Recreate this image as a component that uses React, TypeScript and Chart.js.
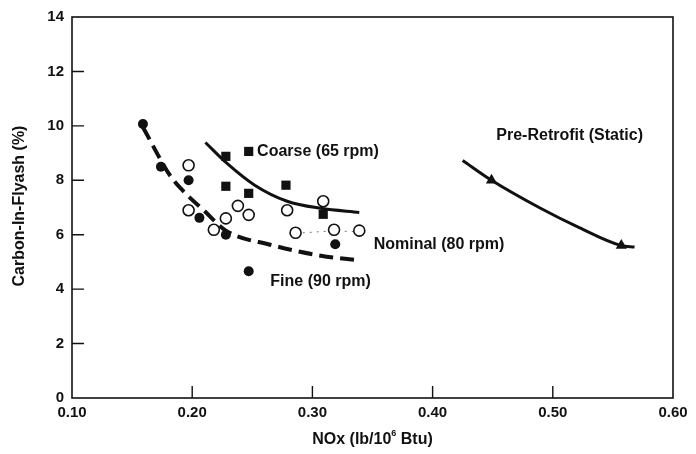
import React, { useEffect, useRef } from "react";
import { Chart, registerables } from "chart.js";

Chart.register(...registerables);

// ---- axis ticks ----
const xTicks = [0.1, 0.2, 0.3, 0.4, 0.5, 0.6];
const yTicks = [0, 2, 4, 6, 8, 10, 12, 14];

// ---- Coarse (65 rpm): filled squares + solid curve ----
const coarseX = [0.228, 0.247, 0.228, 0.247, 0.278, 0.309];
const coarseY = [8.88, 9.06, 7.78, 7.52, 7.82, 6.75];
const coarseCurveX = [0.211, 0.229, 0.252, 0.279, 0.307, 0.339];
const coarseCurveY = [9.39, 8.62, 7.82, 7.23, 6.97, 6.82];

// ---- Nominal (80 rpm): open circles ----
const nominalX = [0.197, 0.197, 0.228, 0.218, 0.238, 0.247, 0.279, 0.309, 0.286, 0.318, 0.339];
const nominalY = [8.55, 6.9, 6.6, 6.18, 7.06, 6.73, 6.9, 7.23, 6.07, 6.18, 6.15];
const nominalCurveX = [0.292, 0.318, 0.334];
const nominalCurveY = [6.07, 6.13, 6.12];

// ---- Fine (90 rpm): filled circles + dashed curve ----
const fineX = [0.159, 0.174, 0.197, 0.206, 0.228, 0.247, 0.319];
const fineY = [10.07, 8.5, 8.0, 6.62, 6.0, 4.66, 5.65];
const fineCurveX = [0.159, 0.182, 0.196, 0.21, 0.228, 0.265, 0.307, 0.34];
const fineCurveY = [9.95, 8.15, 7.45, 6.88, 6.15, 5.63, 5.23, 5.05];

// ---- Pre-Retrofit (Static): triangles + solid curve ----
const preX = [0.449, 0.557];
const preY = [8.0, 5.6];
const preCurveX = [0.425, 0.449, 0.489, 0.522, 0.557, 0.568];
const preCurveY = [8.73, 8.0, 6.99, 6.26, 5.6, 5.55];

// ---- in-plot labels ----
const labelTexts = ["Coarse (65 rpm)", "Nominal (80 rpm)", "Fine (90 rpm)", "Pre-Retrofit (Static)"];
const labelX = [0.254, 0.351, 0.265, 0.453];
const labelY = [9.06, 5.65, 4.26, 9.65];

const xTitleMain = "NOx (lb/10";
const xTitleSup = "6";
const xTitleEnd = " Btu)";
const yTitle = "Carbon-In-Flyash (%)";

const FONT = "'Liberation Sans', Arial, Helvetica, sans-serif";
const INK = "#111111";

const pts = (xs: number[], ys: number[]) => xs.map((x, i) => ({ x, y: ys[i] }));

const decorPlugin = {
  id: "decor",
  afterDraw(chart: any) {
    const { ctx, chartArea: a, scales } = chart;
    const sx = scales.x;
    const sy = scales.y;
    ctx.save();
    // frame
    ctx.strokeStyle = INK;
    ctx.lineWidth = 1.6;
    ctx.strokeRect(a.left, a.top, a.right - a.left, a.bottom - a.top);
    // inner tick marks
    ctx.lineWidth = 1.4;
    ctx.beginPath();
    yTicks.forEach((v) => {
      if (v === yTicks[0] || v === yTicks[yTicks.length - 1]) return;
      const y = sy.getPixelForValue(v);
      ctx.moveTo(a.left, y);
      ctx.lineTo(a.left + 12, y);
    });
    xTicks.forEach((v) => {
      if (v === xTicks[0] || v === xTicks[xTicks.length - 1]) return;
      const x = sx.getPixelForValue(v);
      ctx.moveTo(x, a.bottom);
      ctx.lineTo(x, a.bottom - 12);
    });
    ctx.stroke();

    // labels
    ctx.fillStyle = INK;
    ctx.font = `bold 16px ${FONT}`;
    ctx.textAlign = "left";
    ctx.textBaseline = "middle";
    labelTexts.forEach((t, i) => {
      ctx.fillText(t, sx.getPixelForValue(labelX[i]), sy.getPixelForValue(labelY[i]));
    });

    // x title with superscript
    const cx = (a.left + a.right) / 2;
    const ty = 440;
    ctx.font = `bold 16px ${FONT}`;
    const w1 = ctx.measureText(xTitleMain).width;
    const w3 = ctx.measureText(xTitleEnd).width;
    ctx.font = `bold 9px ${FONT}`;
    const w2 = ctx.measureText(xTitleSup).width;
    const total = w1 + w2 + w3;
    let x0 = cx - total / 2;
    ctx.textAlign = "left";
    ctx.font = `bold 16px ${FONT}`;
    ctx.fillText(xTitleMain, x0, ty);
    x0 += w1;
    ctx.font = `bold 9px ${FONT}`;
    ctx.fillText(xTitleSup, x0, ty - 6);
    x0 += w2;
    ctx.font = `bold 16px ${FONT}`;
    ctx.fillText(xTitleEnd, x0, ty);

    // y title
    ctx.save();
    ctx.translate(20, 206);
    ctx.rotate(-Math.PI / 2);
    ctx.textAlign = "center";
    ctx.fillText(yTitle, 0, 0);
    ctx.restore();

    ctx.restore();
  },
};

export default function App() {
  const ref = useRef<HTMLCanvasElement | null>(null);

  useEffect(() => {
    if (!ref.current) return;
    const chart = new Chart(ref.current, {
      type: "scatter",
      data: {
        datasets: [
          {
            label: "Coarse",
            data: pts(coarseX, coarseY),
            pointStyle: "rect",
            pointRadius: 6.5,
            backgroundColor: INK,
            borderColor: INK,
            borderWidth: 0,
            order: 1,
          },
          {
            label: "Fine",
            data: pts(fineX, fineY),
            pointStyle: "circle",
            pointRadius: 5,
            backgroundColor: INK,
            borderColor: INK,
            borderWidth: 0,
            order: 1,
          },
          {
            label: "Nominal",
            data: pts(nominalX, nominalY),
            pointStyle: "circle",
            pointRadius: 5.5,
            backgroundColor: "#ffffff",
            borderColor: INK,
            borderWidth: 1.6,
            order: 1,
          },
          {
            label: "Pre-Retrofit",
            data: pts(preX, preY),
            pointStyle: "triangle",
            pointRadius: 6.5,
            backgroundColor: INK,
            borderColor: INK,
            borderWidth: 0,
            order: 1,
          },
          {
            type: "line",
            label: "Coarse curve",
            data: pts(coarseCurveX, coarseCurveY),
            borderColor: INK,
            borderWidth: 3,
            pointRadius: 0,
            cubicInterpolationMode: "monotone",
            fill: false,
            order: 2,
          },
          {
            type: "line",
            label: "Fine curve",
            data: pts(fineCurveX, fineCurveY),
            borderColor: INK,
            borderWidth: 4,
            borderDash: [14, 7],
            pointRadius: 0,
            cubicInterpolationMode: "monotone",
            fill: false,
            order: 2,
          },
          {
            type: "line",
            label: "Nominal curve",
            data: pts(nominalCurveX, nominalCurveY),
            borderColor: "#777777",
            borderWidth: 1,
            borderDash: [2, 5],
            pointRadius: 0,
            cubicInterpolationMode: "monotone",
            fill: false,
            order: 2,
          },
          {
            type: "line",
            label: "Pre-Retrofit curve",
            data: pts(preCurveX, preCurveY),
            borderColor: INK,
            borderWidth: 3,
            pointRadius: 0,
            cubicInterpolationMode: "monotone",
            fill: false,
            order: 2,
          },
        ],
      } as any,
      options: {
        animation: false,
        responsive: false,
        maintainAspectRatio: false,
        layout: { padding: { left: 0, right: 23, top: 16, bottom: 0 } },
        plugins: {
          legend: { display: false },
          tooltip: { enabled: false },
        },
        scales: {
          x: {
            type: "linear",
            min: 0.1,
            max: 0.6,
            afterBuildTicks: (s: any) => {
              s.ticks = xTicks.map((v) => ({ value: v }));
            },
            afterFit: (s: any) => {
              s.height = 56;
            },
            grid: { display: true, drawOnChartArea: false, drawTicks: false, color: "rgba(0,0,0,0)" },
            border: { display: false },
            ticks: {
              padding: 6,
              color: INK,
              font: { family: FONT, size: 15, weight: "bold" },
              callback: (v: any) => Number(v).toFixed(2),
              maxRotation: 0,
              autoSkip: false,
            },
          },
          y: {
            type: "linear",
            min: 0,
            max: 14,
            afterBuildTicks: (s: any) => {
              s.ticks = yTicks.map((v) => ({ value: v }));
            },
            afterFit: (s: any) => {
              s.width = 72;
            },
            grid: { display: true, drawOnChartArea: false, drawTicks: false, color: "rgba(0,0,0,0)" },
            border: { display: false },
            ticks: {
              padding: 8,
              color: INK,
              font: { family: FONT, size: 15, weight: "bold" },
              callback: (v: any) => String(v),
              autoSkip: false,
            },
          },
        },
      } as any,
      plugins: [decorPlugin],
    });
    return () => chart.destroy();
  }, []);

  return (
    <div style={{ position: "fixed", left: 0, top: 0, width: 696, height: 454, background: "#ffffff" }}>
      <canvas ref={ref} width={696} height={454} style={{ display: "block", width: 696, height: 454 }} />
    </div>
  );
}
